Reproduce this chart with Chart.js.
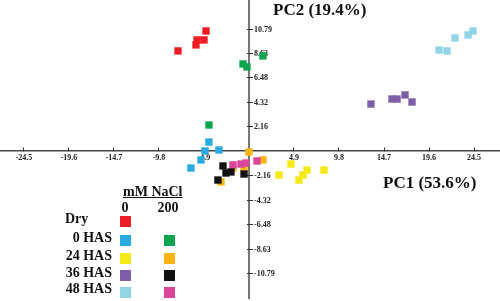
<!DOCTYPE html>
<html>
<head>
<meta charset="utf-8">
<script src="https://cdn.jsdelivr.net/npm/chart.js@4"></script>
<style>
  html, body { margin:0; padding:0; background:#fff; }
  #wrap { position:relative; width:500px; height:301px; overflow:hidden; font-family:"Liberation Serif","Times New Roman",serif; font-weight:bold; color:#111; }
  #wrap canvas { position:absolute; left:0; top:0; }
  .t { position:absolute; white-space:nowrap; line-height:1; }
  .sw { position:absolute; width:11px; height:11px; }
</style>
</head>
<body>
<div id="wrap">
  <canvas id="pca" width="500" height="301"></canvas>
  <div class="t" style="left:273px;top:1px;font-size:17px">PC2 (19.4%)</div>
  <div class="t" style="left:383px;top:174px;font-size:17px">PC1 (53.6%)</div>
  <div id="legend"></div>
</div>
<script>
// ── Data ──────────────────────────────────────────────────────
const xTicks = [-24.5, -19.6, -14.7, -9.8, -4.9, 4.9, 9.8, 14.7, 19.6, 24.5];
const yTicks = [-10.79, -8.63, -6.48, -4.32, -2.16, 2.16, 4.32, 6.48, 8.63, 10.79];

const groups   = ['Dry', '0 HAS', '24 HAS', '36 HAS', '48 HAS'];
const colors0  = ['#ee1c25', '#29abe2', '#f5ea14', '#7e5ea8', '#90d4e6'];
const colors200 = [null, '#0aa54f', '#fbb416', '#111111', '#d8459b'];

// PC1 / PC2 scores, 0 mM NaCl
const pc1Dry  = [-7.73, -5.77, -5.66, -4.90, -4.68];
const pc2Dry  = [ 8.82,  9.35,  9.79,  9.79, 10.58];
const pc1H0   = [-4.36, -3.27, -4.79, -5.23, -6.32];
const pc2H0   = [ 0.79,  0.09,  0.00, -0.79, -1.50];
const pc1H24  = [ 4.57,  3.27,  5.44,  5.88,  6.32,  8.17];
const pc2H24  = [-1.15, -2.12, -2.56, -2.12, -1.68, -1.68];
const pc1H36  = [13.28, 15.57, 16.12, 16.99, 17.75];
const pc2H36  = [ 4.14,  4.58,  4.58,  4.94,  4.32];
const pc1H48  = [20.69, 21.56, 22.43, 23.85, 24.39];
const pc2H48  = [ 8.90,  8.82,  9.96, 10.23, 10.58];

// PC1 / PC2 scores, 200 mM NaCl
const pc1S0   = [-0.65, -0.22,  1.52, -4.36];
const pc2S0   = [ 7.67,  7.41,  8.38,  2.29];
const pc1S24  = [ 0.00,  1.52, -1.74, -0.54, -3.05];
const pc2S24  = [-0.09, -0.79, -1.50, -1.59, -2.73];
const pc1S36  = [-2.83, -2.50, -1.96, -0.54, -3.38];
const pc2S36  = [-1.32, -1.94, -1.85, -2.03, -2.56];
const pc1S48  = [-1.74, -0.87, -0.33,  0.87];
const pc2S48  = [-1.23, -1.15, -1.06, -0.88];

const pts = (xs, ys) => xs.map((x, i) => ({ x, y: ys[i] }));
const series = [
  { data: pts(pc1Dry, pc2Dry), color: colors0[0] },
  { data: pts(pc1H36, pc2H36), color: colors0[3] },
  { data: pts(pc1H48, pc2H48), color: colors0[4] },
  { data: pts(pc1S0,  pc2S0),  color: colors200[1] },
  { data: pts(pc1H24, pc2H24), color: colors0[2] },
  { data: pts(pc1S36, pc2S36), color: colors200[3] },
  { data: pts(pc1S48, pc2S48), color: colors200[4] },
  { data: pts(pc1S24, pc2S24), color: colors200[2] },
  { data: pts(pc1H0,  pc2H0),  color: colors0[1] },
];

// ── y ticks cross the centred axis, labels sit to its right ──
const yLabels = {
  id: 'yLabels',
  beforeDatasetsDraw(chart) {
    const { ctx, scales: { x, y } } = chart;
    const x0 = x.getPixelForValue(0);
    ctx.save();
    ctx.strokeStyle = '#333';
    ctx.lineWidth = 1;
    ctx.font = 'bold 8px "Liberation Serif", serif';
    ctx.fillStyle = '#222';
    ctx.textAlign = 'left';
    ctx.textBaseline = 'middle';
    yTicks.forEach(v => {
      const py = Math.round(y.getPixelForValue(v)) + 0.5;
      ctx.beginPath(); ctx.moveTo(x0 - 2, py); ctx.lineTo(x0 + 4, py); ctx.stroke();
      ctx.fillText(v.toFixed(2), x0 + 5, py);
    });
    ctx.restore();
  }
};

new Chart(document.getElementById('pca'), {
  type: 'scatter',
  data: {
    datasets: series.map(s => ({
      data: s.data, backgroundColor: s.color, borderWidth: 0,
      pointStyle: 'rect', pointRadius: 5.2, pointHoverRadius: 5.2
    }))
  },
  options: {
    responsive: false, animation: false, devicePixelRatio: 1,
    layout: { autoPadding: false, padding: { left: 0, right: 0, top: 0, bottom: 3 } },
    plugins: { legend: { display: false }, tooltip: { enabled: false } },
    scales: {
      x: {
        type: 'linear', position: { y: 0 }, min: -27.11, max: 27.33,
        afterBuildTicks: sc => { sc.ticks = xTicks.map(v => ({ value: v })); },
        border: { color: '#444', width: 1.5 },
        grid: { drawOnChartArea: false, drawTicks: true, tickLength: -4, color: '#333' },
        ticks: { padding: 6, color: '#222', font: { family: '"Liberation Serif", serif', size: 8, weight: 'bold' },
                 maxRotation: 0, autoSkip: false, callback: v => v.toFixed(1) }
      },
      y: {
        type: 'linear', position: { x: 0 }, min: -12.96, max: 13.31,
        afterBuildTicks: sc => { sc.ticks = yTicks.map(v => ({ value: v })); },
        border: { color: '#777', width: 2 },
        grid: { display: false, drawOnChartArea: false, drawTicks: false },
        ticks: { display: false }
      }
    }
  },
  plugins: [yLabels]
});

// ── Legend (HTML) ─────────────────────────────────────────────
const leg = document.getElementById('legend');
const rowBase = [223.5, 242.7, 260.7, 277.7, 294];
let html = '';
html += `<div class="t" style="left:123px;top:185px;font-size:14px;text-decoration:underline">mM NaCl</div>`;
html += `<div class="t" style="left:125px;top:200.5px;font-size:14px;transform:translateX(-50%)">0</div>`;
html += `<div class="t" style="left:168px;top:200.5px;font-size:14px;transform:translateX(-50%)">200</div>`;
groups.forEach((g, i) => {
  const top = rowBase[i] - 11.7;
  if (i === 0) html += `<div class="t" style="left:65px;top:${top}px;font-size:14px">${g}</div>`;
  else html += `<div class="t" style="right:388px;top:${top}px;font-size:14px">${g}</div>`;
  const sTop = rowBase[i] - 7.5;
  html += `<div class="sw" style="left:119.5px;top:${sTop}px;background:${colors0[i]}"></div>`;
  if (colors200[i]) html += `<div class="sw" style="left:163.5px;top:${sTop}px;background:${colors200[i]}"></div>`;
});
leg.innerHTML = html;
</script>
</body>
</html>
